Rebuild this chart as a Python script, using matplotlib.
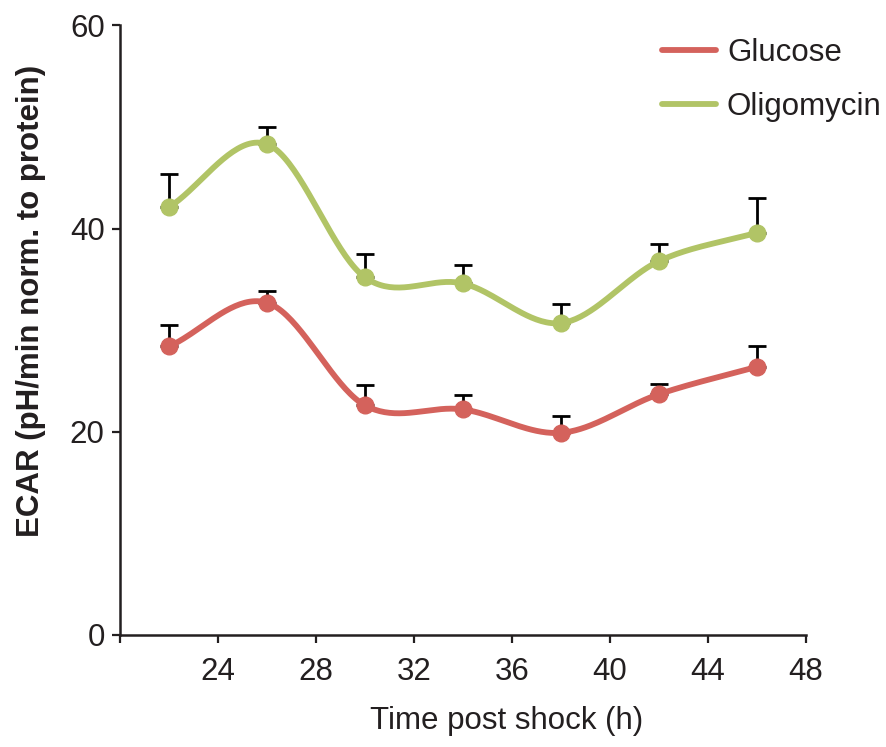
import numpy as np
import matplotlib
matplotlib.use('Agg')
from matplotlib import pyplot as plt

plt.rcParams['font.family'] = ['Liberation Sans', 'DejaVu Sans']

hours = [22, 26, 30, 34, 38, 42, 46]
glucose = [28.4, 32.7, 22.6, 22.2, 19.9, 23.7, 26.4]
glucose_err = [2.1, 1.2, 2.0, 1.4, 1.7, 1.0, 2.0]
oligomycin = [42.1, 48.3, 35.2, 34.6, 30.7, 36.8, 39.6]
oligomycin_err = [3.3, 1.7, 2.3, 1.8, 1.9, 1.7, 3.4]

xticks = [20, 24, 28, 32, 36, 40, 44, 48]
xtick_labels = ['', '24', '28', '32', '36', '40', '44', '48']
yticks = [0, 20, 40, 60]

RED = '#d4625c'
GREEN = '#b1c466'
INK = '#231f20'
FS = 22.5


def catmull_rom(x, y, n=40):
    # smooth curve through the points, used only for drawing the line
    x = np.asarray(x, float)
    y = np.asarray(y, float)
    m = np.zeros_like(y)
    m[1:-1] = (y[2:] - y[:-2]) / (x[2:] - x[:-2])
    m[0] = (y[1] - y[0]) / (x[1] - x[0])
    m[-1] = (y[-1] - y[-2]) / (x[-1] - x[-2])
    xs, ys = [], []
    for i in range(len(x) - 1):
        h = x[i + 1] - x[i]
        t = np.linspace(0, 1, n, endpoint=(i == len(x) - 2))
        h00 = 2 * t ** 3 - 3 * t ** 2 + 1
        h10 = t ** 3 - 2 * t ** 2 + t
        h01 = -2 * t ** 3 + 3 * t ** 2
        h11 = t ** 3 - t ** 2
        xs.append(x[i] + t * h)
        ys.append(h00 * y[i] + h10 * h * m[i] + h01 * y[i + 1] + h11 * h * m[i + 1])
    return np.concatenate(xs), np.concatenate(ys)


fig = plt.figure(figsize=(8.87, 7.47), dpi=100)
ax = fig.add_axes([0.1353, 0.150, 0.7734, 0.816])

for vals, errs, color, label in [(glucose, glucose_err, RED, 'Glucose'),
                                 (oligomycin, oligomycin_err, GREEN, 'Oligomycin')]:
    ax.errorbar(hours, vals, yerr=[np.zeros(len(errs)), errs], fmt='none',
                ecolor='black', elinewidth=2.0, capsize=6.5, capthick=2.0, zorder=2)
    sx, sy = catmull_rom(hours, vals)
    ax.plot(sx, sy, color=color, lw=4.2, solid_capstyle='round', label=label, zorder=3)
    ax.plot(hours, vals, 'o', color=color, ms=12, zorder=4)

ax.set_xlim(20, 48)
ax.set_ylim(0, 60)
ax.set_xticks(xticks)
ax.set_xticklabels(xtick_labels)
ax.set_yticks(yticks)

for side in ['top', 'right']:
    ax.spines[side].set_visible(False)
for side in ['left', 'bottom']:
    ax.spines[side].set_linewidth(1.8)
    ax.spines[side].set_color(INK)

ax.tick_params(direction='out', length=6, width=1.6, colors=INK, labelsize=FS)
ax.tick_params(axis='x', pad=10)
ax.tick_params(axis='y', pad=5)

ax.set_xlabel('Time post shock (h)', fontsize=FS, color=INK)
ax.set_ylabel('ECAR (pH/min norm. to protein)', fontsize=FS, fontweight='bold', color=INK)
ax.xaxis.set_label_coords(0.563, -0.1165)
ax.yaxis.set_label_coords(-0.108, 0.5475)

leg = ax.legend(loc='upper left', bbox_to_anchor=(0.790, 0.979), frameon=False,
                borderaxespad=0, borderpad=0,
                fontsize=FS, handlelength=1.73, handletextpad=0.35, labelspacing=0.76)
for t in leg.get_texts():
    t.set_color(INK)

fig.savefig('out.png', dpi=100)
